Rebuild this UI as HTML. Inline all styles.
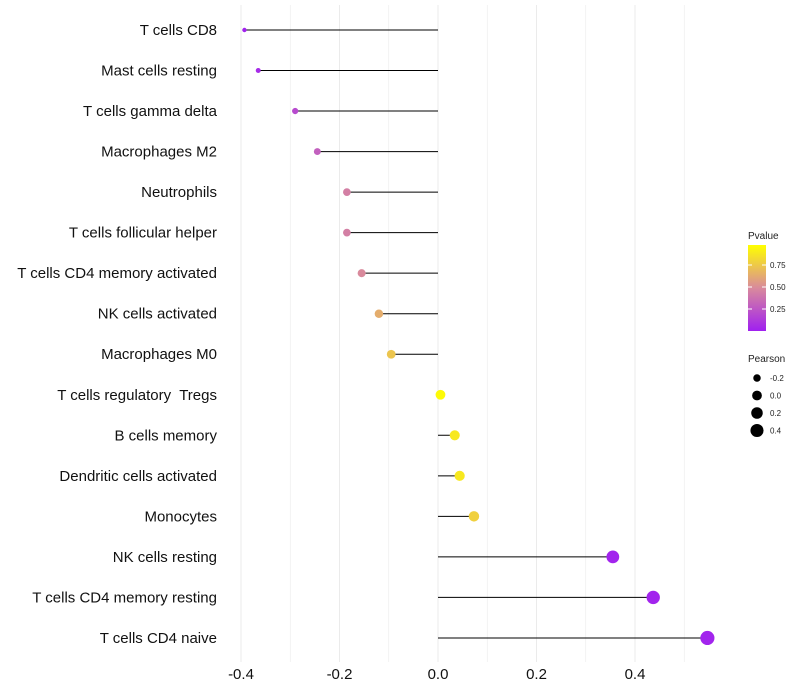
<!DOCTYPE html>
<html><head><meta charset="utf-8"><style>body{margin:0;background:#fff}svg{display:block;font-family:"Liberation Sans",sans-serif}</style></head>
<body>
<svg id="c" width="800" height="700">
<defs><linearGradient id="g" x1="0" y1="1" x2="0" y2="0">
<stop offset="0" stop-color="#a020f0"/><stop offset="0.5" stop-color="#d98a9c"/><stop offset="1" stop-color="#ffff00"/></linearGradient></defs>
</svg>
<script>
const categories=["T cells CD8","Mast cells resting","T cells gamma delta","Macrophages M2","Neutrophils","T cells follicular helper","T cells CD4 memory activated","NK cells activated","Macrophages M0","T cells regulatory  Tregs","B cells memory","Dendritic cells activated","Monocytes","NK cells resting","T cells CD4 memory resting","T cells CD4 naive"];
const pearson=[-0.393,-0.365,-0.29,-0.245,-0.185,-0.185,-0.155,-0.12,-0.095,0.005,0.034,0.044,0.073,0.355,0.437,0.547];
const pvalue=[0.01,0.05,0.2,0.3,0.45,0.45,0.5,0.65,0.75,0.98,0.9,0.9,0.8,0.02,0.02,0.02];
const xTicks=[-0.4,-0.2,0.0,0.2,0.4];
const pTicks=[0.25,0.5,0.75];
const sizeTicks=[-0.2,0.0,0.2,0.4];
const svg=document.getElementById('c');const NS='http://www.w3.org/2000/svg';
function el(t,a,p){const e=document.createElementNS(NS,t);for(const k in a)e.setAttribute(k,a[k]);(p||svg).appendChild(e);return e;}
const x=v=>438+v*492.5;
const y=i=>30+i*40.53;
const r=v=>Math.sqrt(Math.max(2,5+(v+0.39)*48));
function col(p){const s=[[160,32,240],[217,138,156],[255,255,0]];let t=p*2,i=t<1?0:1;t=t-i;const a=s[i],b=s[i+1];return `rgb(${a.map((c,k)=>Math.round(c+(b[k]-c)*t)).join(',')})`;}
for(let k=-4;k<=5;k++){const v=k/10;const g=el('line',{x1:x(v),x2:x(v),y1:5,y2:662,stroke:'#ebebeb','stroke-width':k%2===0?1:0.6});}
xTicks.forEach(t=>{const e=el('text',{x:x(t),y:679,'text-anchor':'middle','font-size':15,fill:'#111'});e.textContent=t.toFixed(1);});
categories.forEach((c,i)=>{
const l=el('text',{x:217,y:y(i)+5,'text-anchor':'end','font-size':15,fill:'#111'});l.textContent=c;
l.setAttribute('xml:space','preserve');l.style.whiteSpace='pre';
const s=el('line',{x1:x(0),x2:x(pearson[i]),y1:y(i),y2:y(i),stroke:'#000','stroke-width':1});
const d=el('circle',{cx:x(pearson[i]),cy:y(i),r:r(pearson[i]),fill:col(pvalue[i])});
});
let t=el('text',{x:748,y:239,'font-size':10,fill:'#222'});t.textContent='Pvalue';
let cb=el('rect',{x:748,y:245,width:18,height:86,fill:'url(#g)'});
pTicks.forEach(p=>{const yy=331-p*88;el('line',{x1:748,x2:752,y1:yy,y2:yy,stroke:'#fff'});el('line',{x1:762,x2:766,y1:yy,y2:yy,stroke:'#fff'});const e=el('text',{x:770,y:yy+3,'font-size':8,fill:'#222'});e.textContent=p.toFixed(2);});
t=el('text',{x:748,y:362,'font-size':10,fill:'#222'});t.textContent='Pearson';
sizeTicks.forEach((s,i)=>{const yy=378+i*17.5;const c=el('circle',{cx:757,cy:yy,r:r(s),fill:'#000'});const e=el('text',{x:770,y:yy+3,'font-size':8,fill:'#222'});e.textContent=s.toFixed(1);});
</script>
</body></html>
